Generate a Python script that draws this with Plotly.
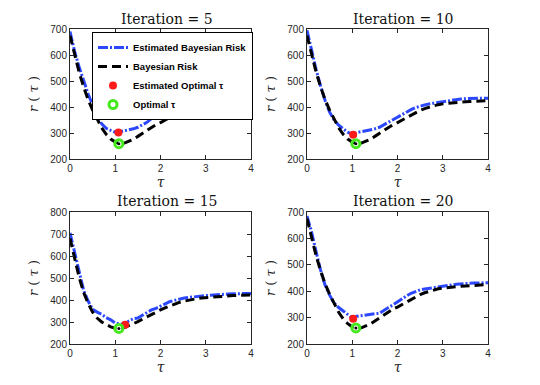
import plotly.graph_objects as go

# tau grid and curves
tau = [round(0.1 * i, 1) for i in range(41)]

risk_true = [675, 600, 535, 478, 428, 388, 352, 320, 295, 277,
             265, 259, 261, 267, 276, 287, 299, 311, 322, 332,
             340, 350, 360, 370, 379, 387, 394, 400, 405, 409,
             412, 414, 416, 418, 419, 420, 421, 422, 423, 424, 425]

risk_true_15 = [680, 590, 505, 435, 385, 345, 318, 300, 287, 278,
                272, 270, 275, 282, 292, 302, 313, 324, 335, 345,
                355, 364, 373, 381, 388, 394, 399, 403, 406, 409,
                411, 413, 415, 417, 418, 419, 420, 421, 422, 422, 423]

est_5 = [690, 615, 555, 500, 450, 408, 365, 335, 318, 310,
         303, 305, 308, 312, 316, 322, 332, 341, 355, 366,
         378, 386, 394, 400, 404, 408, 410, 413, 415, 417,
         419, 421, 423, 425, 427, 428, 429, 430, 430, 430, 430]

est_10 = [695, 615, 545, 480, 425, 380, 350, 330, 315, 303,
          295, 302, 305, 308, 312, 316, 322, 332, 342, 352,
          362, 372, 382, 390, 398, 404, 408, 412, 415, 418,
          421, 424, 427, 429, 431, 432, 433, 433, 434, 434, 434]

est_15 = [705, 615, 525, 445, 395, 358, 345, 335, 320, 310,
          295, 290, 288, 305, 315, 318, 330, 345, 355, 362,
          372, 382, 392, 398, 404, 408, 411, 414, 416, 418,
          420, 422, 424, 425, 426, 427, 428, 428, 429, 430, 430]

est_20 = [685, 625, 550, 480, 423, 385, 355, 338, 325, 312,
          298, 305, 308, 310, 312, 315, 316, 328, 338, 348,
          360, 370, 382, 392, 400, 405, 408, 411, 414, 416,
          418, 421, 424, 426, 428, 429, 430, 431, 431, 432, 432]

iterations = [5, 10, 15, 20]
est_curves = [est_5, est_10, est_15, est_20]
true_curves = [risk_true, risk_true, risk_true_15, risk_true]
est_opt_tau = [1.07, 1.02, 1.22, 1.02]
est_opt_r = [302, 293, 288, 296]
opt_tau = [1.08, 1.08, 1.08, 1.08]
opt_r = [259, 259, 271, 261]
y_ranges = [[200, 700], [200, 700], [200, 800], [200, 700]]

# page body has an 8px margin, so work in figure pixels = screen pixels - 8
OFF = 8
W, H = 540 - OFF, 385 - OFF
def px(v):
    return (v - OFF) / W
def py(v):
    return 1 - (v - OFF) / H

x_domains = [[px(70), px(251)], [px(307), px(488)]] * 2
y_domains = [[py(159), py(29)]] * 2 + [[py(344), py(212)]] * 2
title_y = [py(19), py(19), py(201), py(201)]

axis_col = '#262626'
tick_font = dict(family='Liberation Sans, Arial', size=10, color=axis_col)
serif = 'DejaVu Serif, Liberation Serif, serif'

fig = go.Figure()
annotations = []
layout = {}

for i in range(4):
    n = '' if i == 0 else str(i + 1)
    xa, ya = 'x' + n, 'y' + n
    first = i == 0

    fig.add_trace(go.Scatter(x=tau, y=est_curves[i], mode='lines', xaxis=xa, yaxis=ya,
                             name='Estimated Bayesian Risk', showlegend=first,
                             line=dict(color='#2c48ff', width=3, dash='10px,2px,2px,2px')))
    fig.add_trace(go.Scatter(x=tau, y=true_curves[i], mode='lines', xaxis=xa, yaxis=ya,
                             name='Bayesian Risk', showlegend=first,
                             line=dict(color='black', width=3, dash='9px,5px')))
    fig.add_trace(go.Scatter(x=[est_opt_tau[i]], y=[est_opt_r[i]], mode='markers',
                             xaxis=xa, yaxis=ya, name='Estimated Optimal τ', showlegend=first,
                             marker=dict(color='#ff1a1a', size=8, symbol='circle')))
    fig.add_trace(go.Scatter(x=[opt_tau[i]], y=[opt_r[i]], mode='markers',
                             xaxis=xa, yaxis=ya, name='Optimal τ', showlegend=first,
                             marker=dict(color='#44e81c', size=8, symbol='circle-open',
                                         line=dict(width=3, color='#44e81c'))))
    fig.add_trace(go.Scatter(x=[opt_tau[i]], y=[opt_r[i]], mode='markers',
                             xaxis=xa, yaxis=ya, showlegend=False, hoverinfo='skip',
                             marker=dict(color='black', size=3)))

    layout['xaxis' + n] = dict(domain=x_domains[i], range=[0, 4], anchor=ya,
                               tickvals=[0, 1, 2, 3, 4], ticks='inside', ticklen=4,
                               showline=True, mirror='ticks', linecolor=axis_col,
                               tickcolor=axis_col, linewidth=1, showgrid=False,
                               zeroline=False, tickfont=tick_font, automargin=False,
                               title=dict(text='<i>τ</i>', standoff=2,
                                          font=dict(family=serif, size=14, color=axis_col)))
    layout['yaxis' + n] = dict(domain=y_domains[i], range=y_ranges[i], anchor=xa,
                               dtick=100, ticks='inside', ticklen=4,
                               showline=True, mirror='ticks', linecolor=axis_col,
                               tickcolor=axis_col, linewidth=1, showgrid=False,
                               zeroline=False, tickfont=tick_font, automargin=False,
                               title=dict(text='<i>r</i> ( <i>τ</i> )', standoff=8,
                                          font=dict(family=serif, size=13, color=axis_col)))
    annotations.append(dict(text='Iteration = %d' % iterations[i], xref='paper', yref='paper',
                            x=sum(x_domains[i]) / 2 + 6 / W, y=title_y[i],
                            xanchor='center', yanchor='middle', showarrow=False,
                            font=dict(family=serif, size=14, color='#111111')))

fig.update_layout(**layout)
fig.update_layout(
    width=W, height=H, margin=dict(l=0, r=0, t=0, b=0),
    paper_bgcolor='white', plot_bgcolor='white',
    annotations=annotations,
    legend=dict(x=px(92), y=py(32), xanchor='left', yanchor='top',
                bgcolor='white', bordercolor='black', borderwidth=1,
                font=dict(family='Liberation Sans, Arial', size=9.5, color='black', weight='bold'),
                tracegroupgap=0, itemwidth=30),
)

fig.write_html("out.html")
